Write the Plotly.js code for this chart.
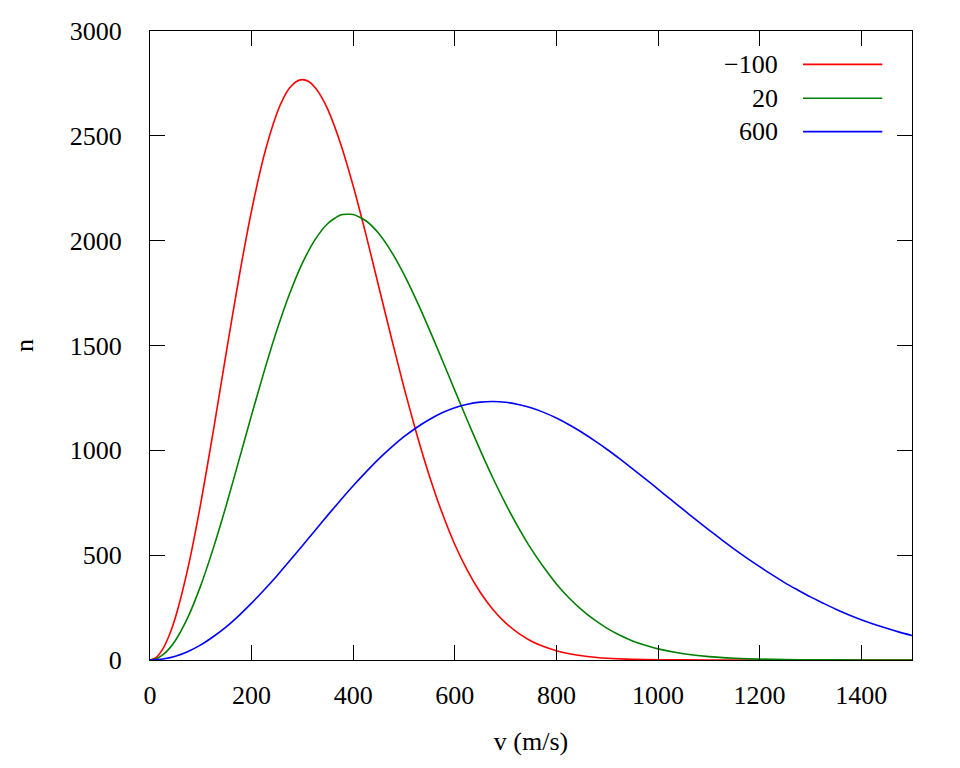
<!DOCTYPE html>
<html>
<head>
<meta charset="utf-8">
<script src="https://cdn.plot.ly/plotly-3.0.1.min.js"></script>
<style>html,body{margin:0;padding:0;background:#fff;}#chart{width:960px;height:768px;}</style>
</head>
<body>
<div id="chart"></div>
<script>
// Speeds (m/s)
const vRed = [0,12.5,25,37.5,50,75,100,125,150,175,200,225,250,262.5,275,287.5,300,312.5,325,337.5,350,375,400,425,450,475,500,525,550,575,600,625,650,675,700,725,750,775,800,825,850,875,900,950,1000,1100,1200,1300,1400,1500];
const nRed = [0,13,52,116,203,442,748,1098,1465,1822,2144,2411,2609,2679,2729,2758,2768,2759,2731,2686,2626,2464,2261,2030,1784,1538,1300,1078,878,702,551,426,323,241,177,128,91,64,44,30,20,13,8,3,1,0.1,0,0,0,0];

const vGreen = [0,12.5,25,37.5,50,75,100,125,150,175,200,225,250,275,300,325,350,375,400,425,450,475,500,525,550,575,600,625,650,675,700,725,750,775,800,825,850,875,900,925,950,975,1000,1050,1100,1150,1200,1250,1300,1400,1500];
const nGreen = [0,6,24,53,93,206,356,536,737,952,1169,1379,1575,1748,1893,2005,2082,2122,2125,2095,2035,1948,1839,1713,1576,1432,1286,1141,1001,868,745,633,531,442,363,296,239,191,151,118,91,70,53,30,16,8.5,4.3,2.1,1.0,0.2,0.03];

const vBlue = [0,25,50,75,100,125,150,175,200,225,250,275,300,325,350,375,400,425,450,475,500,525,550,575,600,625,650,675,700,725,750,775,800,825,850,875,900,925,950,975,1000,1025,1050,1075,1100,1125,1150,1175,1200,1225,1250,1275,1300,1325,1350,1375,1400,1425,1450,1475,1500];
const nBlue = [0,4.6,18,41,72,112,158,212,271,335,402,473,545,618,691,762,831,896,958,1014,1065,1109,1147,1179,1203,1220,1230,1233,1229,1219,1203,1181,1154,1122,1086,1046,1004,959,912,864,815,766,717,668,621,574,529,486,445,406,368,334,301,271,242,216,192,171,151,133,117];

const seriesNames = ["\u2212100", "20", "600"];
const seriesColors = ["#ff0000", "#008000", "#0000ff"];
const xTicks = [0,200,400,600,800,1000,1200,1400];
const yTicks = [0,500,1000,1500,2000,2500,3000];

const xs = [vRed, vGreen, vBlue];
const ys = [nRed, nGreen, nBlue];

const FONT = "'Liberation Serif', 'DejaVu Serif', serif";

const traces = xs.map((x, i) => ({
  x: x, y: ys[i], type: "scatter", mode: "lines", name: seriesNames[i],
  line: {color: seriesColors[i], width: 1.6, shape: "spline", smoothing: 0.6},
  showlegend: false, cliponaxis: true
}));

// manual legend (text left of sample line, gnuplot style)
const legY = [0.947, 0.893, 0.840];
const annotations = seriesNames.map((t, i) => ({
  xref: "paper", yref: "paper", x: 0.827, y: legY[i], xanchor: "right", yanchor: "middle",
  text: t, showarrow: false, font: {family: FONT, size: 26, color: "#000"}
}));
const shapes = seriesNames.map((t, i) => ({
  type: "line", xref: "paper", yref: "paper", x0: 0.857, x1: 0.961, y0: legY[i], y1: legY[i],
  line: {color: seriesColors[i], width: 1.6}
}));

const axisCommon = {
  showline: true, mirror: "ticks", linecolor: "#000", linewidth: 1,
  ticks: "inside", ticklen: 15, tickwidth: 1, tickcolor: "#000",
  showgrid: false, zeroline: false,
  tickfont: {family: FONT, size: 26, color: "#000"}
};

const layout = {
  width: 960, height: 768,
  margin: {l: 150, r: 48, t: 31, b: 108},
  paper_bgcolor: "#fff", plot_bgcolor: "#fff",
  font: {family: FONT, color: "#000"},
  xaxis: Object.assign({}, axisCommon, {
    range: [0, 1500], tickvals: xTicks, ticktext: xTicks.map(String),
    ticklabelstandoff: 12,
    title: {text: "v (m/s)", font: {family: FONT, size: 26, color: "#000"}, standoff: 22}
  }),
  yaxis: Object.assign({}, axisCommon, {
    range: [0, 3000], tickvals: yTicks, ticktext: yTicks.map(String),
    ticklabelstandoff: 22,
    title: {text: "n", font: {family: FONT, size: 26, color: "#000"}, standoff: 28}
  }),
  annotations: annotations,
  shapes: shapes,
  showlegend: false
};

Plotly.newPlot("chart", traces, layout, {staticPlot: true, displayModeBar: false});
</script>
</body>
</html>
